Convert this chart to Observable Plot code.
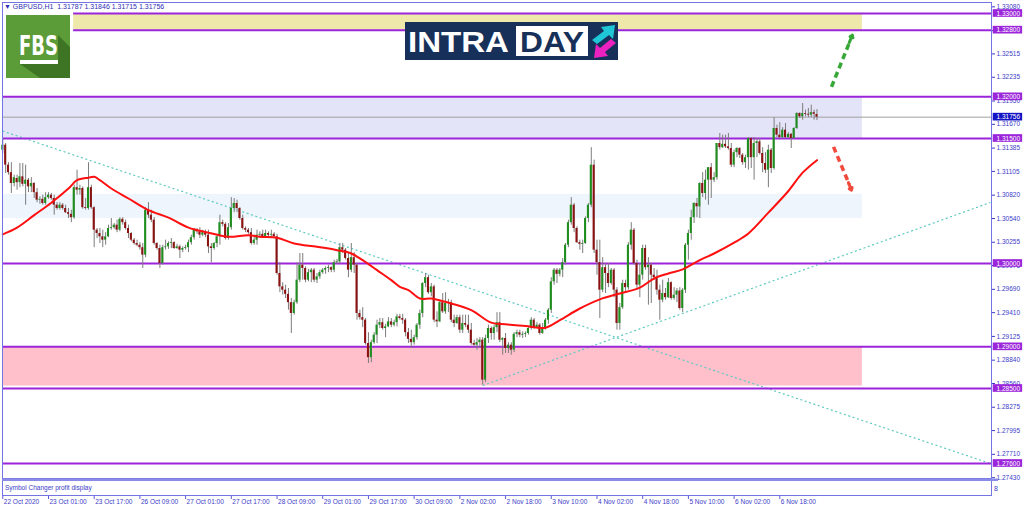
<!DOCTYPE html>
<html><head><meta charset="utf-8">
<script src="https://cdn.jsdelivr.net/npm/d3@7"></script>
<script src="https://cdn.jsdelivr.net/npm/@observablehq/plot@0.6"></script>
<style>
html,body{margin:0;padding:0;background:#fff;}
#wrap{position:relative;width:1024px;height:511px;overflow:hidden;font-family:"Liberation Sans",Arial,sans-serif;}
#chart{position:absolute;left:0;top:0;}
#hdr{position:absolute;left:4px;top:3px;font-size:7px;color:#2e2eb8;white-space:pre;line-height:8px;}
#fbs{position:absolute;left:6px;top:15px;width:64px;height:63px;}
#intra{position:absolute;left:405px;top:22px;width:213px;height:38px;}
</style></head><body>
<div id="wrap"><div id="chart"></div>
<div id="hdr">▼ GBPUSD,H1  1.31787 1.31846 1.31715 1.31756</div>
<div id="fbs"><svg width="64" height="63">
<rect width="64" height="63" fill="#5c9c38"/>
<polygon points="52,20 64,32 64,63 34,63 14,49 52,49" fill="#3e7524"/>
<text x="13" y="40" font-family="'DejaVu Sans Condensed','Liberation Sans Narrow','Liberation Sans',sans-serif" font-weight="bold" font-size="26" fill="#fff" textLength="39" lengthAdjust="spacingAndGlyphs">FBS</text>
<rect x="14" y="45" width="38" height="4" fill="#fff"/>
</svg></div>
<div id="intra"><svg width="213" height="38">
<rect width="213" height="38" fill="#17305a"/>
<text x="3" y="30" font-family="'Liberation Sans',Arial,sans-serif" font-weight="bold" font-size="29" fill="#fff" textLength="101" lengthAdjust="spacingAndGlyphs">INTRA</text>
<rect x="111" y="4" width="72" height="30" fill="#fff"/>
<text x="115" y="30" font-family="'Liberation Sans',Arial,sans-serif" font-weight="bold" font-size="29" fill="#17305a" textLength="64" lengthAdjust="spacingAndGlyphs">DAY</text>
<polygon points="187,18 199,9 196,5 210,3 208,17 204,13 192,22" fill="#1fc6d6"/>
<polygon points="211,21 200,30 203,34 189,36 191,22 195,26 206,17" fill="#ec22c0"/>
</svg></div>
</div>
<script>
// ---- data (GBPUSD H1) ----
const timeLabels = ["22 Oct 2020","23 Oct 01:00","23 Oct 17:00","26 Oct 09:00","27 Oct 01:00","27 Oct 17:00","28 Oct 09:00","29 Oct 01:00","29 Oct 17:00","30 Oct 09:00","2 Nov 02:00","2 Nov 18:00","3 Nov 10:00","4 Nov 02:00","4 Nov 18:00","5 Nov 10:00","6 Nov 02:00","6 Nov 18:00"];
const timeLabelIndex = [0,16,32,48,64,80,96,112,128,144,160,176,192,208,224,240,256,272];

const open = [1.3136,1.3142,1.3118,1.3109,1.3096,1.3102,1.3097,1.3104,1.3095,1.3100,1.3092,1.3096,1.3085,1.3076,1.3077,1.3072,1.3079,1.3082,1.3078,1.3070,1.3066,1.3070,1.3066,1.3061,1.3059,1.3055,1.3091,1.3088,1.3090,1.3067,1.3066,1.3091,1.3067,1.3040,1.3036,1.3032,1.3028,1.3032,1.3042,1.3043,1.3046,1.3040,1.3053,1.3049,1.3042,1.3036,1.3028,1.3024,1.3022,1.3019,1.3010,1.3064,1.3058,1.3052,1.3024,1.3018,1.3000,1.3019,1.3020,1.3024,1.3025,1.3018,1.3020,1.3016,1.3018,1.3019,1.3025,1.3031,1.3040,1.3038,1.3034,1.3037,1.3034,1.3020,1.3018,1.3024,1.3032,1.3049,1.3047,1.3030,1.3043,1.3066,1.3072,1.3066,1.3054,1.3042,1.3040,1.3037,1.3024,1.3028,1.3034,1.3035,1.3032,1.3036,1.3034,1.3035,1.3032,1.2988,1.2972,1.2968,1.2963,1.2953,1.2940,1.2953,1.2980,1.2998,1.2994,1.2980,1.2989,1.2992,1.2980,1.2984,1.2989,1.2992,1.2994,1.2995,1.2992,1.3001,1.3002,1.3019,1.3016,1.3006,1.2992,1.3007,1.2998,1.2940,1.2935,1.2932,1.2904,1.2887,1.2905,1.2914,1.2926,1.2929,1.2922,1.2924,1.2930,1.2926,1.2929,1.2936,1.2934,1.2932,1.2917,1.2909,1.2905,1.2911,1.2926,1.2940,1.2976,1.2983,1.2965,1.2972,1.2932,1.2930,1.2953,1.2942,1.2952,1.2953,1.2932,1.2928,1.2935,1.2920,1.2928,1.2926,1.2920,1.2904,1.2902,1.2905,1.2908,1.2860,1.2910,1.2922,1.2916,1.2923,1.2929,1.2908,1.2910,1.2898,1.2902,1.2896,1.2915,1.2917,1.2914,1.2915,1.2916,1.2922,1.2932,1.2923,1.2926,1.2916,1.2922,1.2932,1.2944,1.2978,1.2992,1.2987,1.2992,1.3001,1.3022,1.3049,1.3070,1.3042,1.3025,1.3023,1.3024,1.3054,1.3070,1.3118,1.3016,1.3001,1.2968,1.2995,1.2988,1.2976,1.2992,1.2968,1.2928,1.2947,1.2976,1.2971,1.3022,1.3040,1.3000,1.2974,1.2986,1.3018,1.2995,1.2998,1.2986,1.2983,1.2968,1.2956,1.2964,1.2959,1.2977,1.2958,1.2962,1.2967,1.2946,1.2968,1.3022,1.3036,1.3055,1.3072,1.3068,1.3096,1.3084,1.3100,1.3115,1.3100,1.3103,1.3144,1.3139,1.3143,1.3140,1.3138,1.3118,1.3133,1.3138,1.3130,1.3121,1.3127,1.3150,1.3127,1.3144,1.3146,1.3132,1.3120,1.3112,1.3136,1.3114,1.3162,1.3154,1.3151,1.3160,1.3151,1.3155,1.3150,1.3162,1.3180,1.3176,1.3180,1.3179,1.3178,1.3181,1.31787];
const high = [1.3150,1.3144,1.3121,1.3121,1.3106,1.3106,1.3120,1.3120,1.3118,1.3102,1.3103,1.3097,1.3090,1.3080,1.3082,1.3085,1.3085,1.3084,1.3082,1.3073,1.3073,1.3072,1.3070,1.3066,1.3064,1.3094,1.3112,1.3094,1.3092,1.3078,1.3121,1.3094,1.3068,1.3042,1.3042,1.3040,1.3037,1.3046,1.3054,1.3048,1.3052,1.3055,1.3055,1.3052,1.3046,1.3037,1.3030,1.3028,1.3025,1.3024,1.3067,1.3073,1.3064,1.3055,1.3025,1.3022,1.3022,1.3028,1.3026,1.3030,1.3026,1.3023,1.3022,1.3020,1.3022,1.3028,1.3034,1.3042,1.3042,1.3043,1.3040,1.3040,1.3040,1.3024,1.3025,1.3035,1.3058,1.3052,1.3049,1.3048,1.3079,1.3078,1.3076,1.3067,1.3058,1.3044,1.3042,1.3042,1.3034,1.3040,1.3038,1.3040,1.3040,1.3038,1.3040,1.3037,1.3035,1.3001,1.2977,1.2974,1.2970,1.2958,1.2956,1.3001,1.3012,1.3012,1.2996,1.2993,1.2994,1.2994,1.2988,1.2992,1.2994,1.2996,1.2998,1.2996,1.3004,1.3005,1.3024,1.3024,1.3018,1.3013,1.3024,1.3013,1.3000,1.2944,1.2947,1.2934,1.2917,1.2908,1.2917,1.2932,1.2934,1.2934,1.2927,1.2935,1.2934,1.2932,1.2939,1.2939,1.2939,1.2934,1.2922,1.2920,1.2914,1.2928,1.2944,1.2977,1.2988,1.2986,1.2976,1.2974,1.2942,1.2956,1.2964,1.2965,1.2957,1.2956,1.2938,1.2938,1.2938,1.2938,1.2938,1.2938,1.2928,1.2908,1.2910,1.2911,1.2911,1.2914,1.2926,1.2924,1.2926,1.2941,1.2941,1.2911,1.2916,1.2905,1.2905,1.2917,1.2920,1.2920,1.2918,1.2918,1.2924,1.2935,1.2934,1.2929,1.2928,1.2928,1.2934,1.2946,1.2983,1.2994,1.2994,1.2994,1.3006,1.3024,1.3052,1.3079,1.3072,1.3044,1.3028,1.3028,1.3056,1.3072,1.3139,1.3124,1.3028,1.3028,1.3007,1.3000,1.3000,1.2994,1.2994,1.2971,1.2952,1.2980,1.2980,1.3025,1.3049,1.3042,1.3004,1.3000,1.3022,1.3022,1.3007,1.3000,1.2994,1.2992,1.2974,1.2980,1.2970,1.2982,1.2978,1.2971,1.2970,1.2971,1.2970,1.3024,1.3040,1.3064,1.3073,1.3078,1.3097,1.3109,1.3112,1.3115,1.3120,1.3109,1.3144,1.3156,1.3154,1.3154,1.3156,1.3144,1.3136,1.3139,1.3139,1.3132,1.3130,1.3151,1.3151,1.3151,1.3150,1.3150,1.3139,1.3133,1.3142,1.3138,1.3175,1.3166,1.3169,1.3163,1.3168,1.3157,1.3156,1.3163,1.3181,1.3181,1.3192,1.3184,1.3186,1.3190,1.3184,1.31846];
const low = [1.3132,1.3108,1.3106,1.3084,1.3092,1.3088,1.3091,1.3092,1.3070,1.3085,1.3085,1.3078,1.3073,1.3071,1.3070,1.3070,1.3077,1.3076,1.3058,1.3064,1.3064,1.3064,1.3060,1.3054,1.3049,1.3053,1.3082,1.3082,1.3065,1.3064,1.3064,1.3065,1.3019,1.3030,1.3024,1.3019,1.3022,1.3031,1.3040,1.3041,1.3037,1.3038,1.3046,1.3040,1.3030,1.3026,1.3022,1.3020,1.3016,1.2994,1.3007,1.3054,1.3049,1.3022,1.3016,1.2994,1.2998,1.3016,1.3017,1.3018,1.3017,1.3017,1.3006,1.3013,1.3016,1.3013,1.3022,1.3028,1.3035,1.3030,1.3032,1.3031,1.3012,1.3001,1.3016,1.3019,1.3022,1.3044,1.3028,1.3028,1.3040,1.3061,1.3061,1.3052,1.3040,1.3037,1.3035,1.3022,1.3022,1.3022,1.3030,1.3030,1.3030,1.3031,1.3031,1.3030,1.2986,1.2965,1.2962,1.2958,1.2944,1.2916,1.2938,1.2951,1.2977,1.2980,1.2977,1.2978,1.2977,1.2977,1.2976,1.2981,1.2987,1.2987,1.2989,1.2989,1.2989,1.2999,1.2999,1.3012,1.3004,1.2983,1.2989,1.2988,1.2932,1.2932,1.2923,1.2902,1.2880,1.2881,1.2903,1.2904,1.2922,1.2920,1.2911,1.2923,1.2923,1.2924,1.2924,1.2932,1.2927,1.2912,1.2904,1.2898,1.2902,1.2908,1.2921,1.2935,1.2971,1.2963,1.2960,1.2929,1.2923,1.2929,1.2940,1.2939,1.2941,1.2929,1.2923,1.2927,1.2916,1.2916,1.2923,1.2916,1.2902,1.2899,1.2896,1.2898,1.2854,1.2857,1.2904,1.2908,1.2908,1.2917,1.2905,1.2890,1.2892,1.2892,1.2890,1.2893,1.2911,1.2911,1.2910,1.2911,1.2914,1.2920,1.2921,1.2922,1.2914,1.2915,1.2920,1.2927,1.2940,1.2974,1.2976,1.2984,1.2983,1.2998,1.3019,1.3046,1.3037,1.3024,1.3016,1.3012,1.3023,1.3049,1.3067,1.3012,1.2986,1.2934,1.2965,1.2964,1.2971,1.2974,1.2959,1.2920,1.2920,1.2945,1.2965,1.2968,1.3016,1.2998,1.2968,1.2959,1.2980,1.2992,1.2950,1.2952,1.2980,1.2962,1.2932,1.2953,1.2956,1.2958,1.2956,1.2956,1.2953,1.2944,1.2941,1.2964,1.3004,1.3028,1.3048,1.3055,1.3054,1.3079,1.3076,1.3070,1.3078,1.3097,1.3100,1.3136,1.3138,1.3138,1.3136,1.3115,1.3115,1.3127,1.3126,1.3118,1.3114,1.3112,1.3114,1.3100,1.3127,1.3130,1.3109,1.3108,1.3091,1.3108,1.3112,1.3151,1.3150,1.3150,1.3150,1.3150,1.3138,1.3149,1.3161,1.3174,1.3172,1.3176,1.3175,1.3175,1.3172,1.31715];
const close = [1.3142,1.3118,1.3109,1.3096,1.3103,1.3097,1.3104,1.3095,1.3100,1.3092,1.3096,1.3085,1.3076,1.3077,1.3072,1.3079,1.3082,1.3078,1.3070,1.3066,1.3070,1.3066,1.3061,1.3059,1.3055,1.3091,1.3088,1.3090,1.3067,1.3066,1.3091,1.3067,1.3040,1.3036,1.3032,1.3028,1.3032,1.3042,1.3043,1.3046,1.3040,1.3053,1.3049,1.3042,1.3036,1.3028,1.3024,1.3022,1.3019,1.3010,1.3064,1.3058,1.3052,1.3024,1.3018,1.3000,1.3019,1.3020,1.3024,1.3025,1.3018,1.3020,1.3016,1.3018,1.3019,1.3025,1.3031,1.3040,1.3038,1.3034,1.3037,1.3034,1.3020,1.3018,1.3024,1.3032,1.3049,1.3047,1.3030,1.3043,1.3066,1.3072,1.3066,1.3054,1.3042,1.3040,1.3037,1.3024,1.3028,1.3034,1.3035,1.3032,1.3036,1.3034,1.3035,1.3032,1.2988,1.2972,1.2968,1.2963,1.2953,1.2940,1.2953,1.2980,1.2998,1.2994,1.2980,1.2989,1.2992,1.2980,1.2984,1.2989,1.2992,1.2994,1.2995,1.2992,1.3001,1.3002,1.3019,1.3016,1.3006,1.2992,1.3007,1.2998,1.2940,1.2935,1.2932,1.2904,1.2887,1.2905,1.2914,1.2926,1.2929,1.2922,1.2924,1.2930,1.2926,1.2929,1.2936,1.2934,1.2932,1.2917,1.2909,1.2905,1.2911,1.2926,1.2940,1.2976,1.2983,1.2965,1.2972,1.2932,1.2930,1.2953,1.2942,1.2952,1.2953,1.2932,1.2928,1.2935,1.2920,1.2928,1.2926,1.2920,1.2904,1.2902,1.2905,1.2908,1.2860,1.2910,1.2922,1.2916,1.2923,1.2929,1.2908,1.2910,1.2898,1.2902,1.2896,1.2915,1.2917,1.2914,1.2915,1.2916,1.2922,1.2932,1.2923,1.2926,1.2916,1.2922,1.2932,1.2944,1.2978,1.2992,1.2987,1.2992,1.3001,1.3022,1.3049,1.3070,1.3042,1.3025,1.3023,1.3024,1.3054,1.3070,1.3118,1.3016,1.3001,1.2968,1.2995,1.2988,1.2976,1.2992,1.2968,1.2928,1.2947,1.2976,1.2971,1.3022,1.3040,1.3000,1.2974,1.2986,1.3018,1.2995,1.2998,1.2986,1.2983,1.2968,1.2956,1.2964,1.2959,1.2977,1.2958,1.2962,1.2967,1.2946,1.2968,1.3022,1.3036,1.3055,1.3072,1.3068,1.3096,1.3084,1.3100,1.3115,1.3100,1.3103,1.3144,1.3139,1.3143,1.3140,1.3138,1.3118,1.3133,1.3138,1.3130,1.3121,1.3127,1.3150,1.3127,1.3144,1.3146,1.3132,1.3120,1.3112,1.3136,1.3114,1.3162,1.3154,1.3151,1.3160,1.3151,1.3155,1.3150,1.3162,1.3180,1.3176,1.3180,1.3179,1.3178,1.3181,1.3179,1.31756];

// moving average (bar index, value)
const maIndex = [0,5,11,17,23,26,30,32,34,38,44,51,58,65,72,79,86,90,96,102,110,117,122,126,131,136,139,142,146,150,157,164,171,176,183,190,195,202,209,216,223,228,233,238,244,249,256,261,268,275,280,285];
const maValue = [1.3035,1.3043,1.3058,1.3073,1.3090,1.3100,1.3103,1.3104,1.3100,1.3090,1.3078,1.3064,1.3055,1.3043,1.3037,1.3032,1.3034,1.3032,1.3031,1.3024,1.3020,1.3016,1.3012,1.3004,1.2992,1.2980,1.2972,1.2968,1.2958,1.2958,1.2952,1.2944,1.2929,1.2927,1.2925,1.2923,1.2932,1.2946,1.2957,1.2964,1.2971,1.2982,1.2988,1.2993,1.3004,1.3012,1.3025,1.3036,1.3061,1.3087,1.3109,1.3124];

const levels = [1.33, 1.328, 1.32, 1.315, 1.30, 1.29, 1.285, 1.276];
const currentPrice = 1.31756;
const yTickValues = [1.33080,1.32795,1.32515,1.32235,1.31950,1.31670,1.31385,1.31105,1.30820,1.30540,1.30255,1.29975,1.29690,1.29410,1.29125,1.28840,1.28560,1.28275,1.27995,1.27710,1.27430];

const zoneLow  = [1.328, 1.315, 1.3054, 1.2853];
const zoneHigh = [1.330, 1.320, 1.3083, 1.2900];
const zoneFill = ["#eee8aa", "#e4e4f8", "#eef5fd", "#ffc0cb"];

const trendStartX = [-0.1, 168];
const trendStartY = [1.3159, 1.28536];
const trendEndX   = [345.7, 345.7];
const trendEndY   = [1.2760, 1.30732];

// ---- build ----
const XMIN = -0.1, XMAX = 346.1;
const YMIN = 1.27420, YMAX = 1.33132;
const fmt = d3.format(".5f");
const candles = open.map((o, i) => ({i, o, h: high[i], l: low[i], c: close[i]}));
const ma = maIndex.map((x, k) => ({x, y: maValue[k]}));
const zones = zoneLow.map((lo, k) => ({lo, hi: zoneHigh[k], fill: zoneFill[k], x1: k === 0 ? 24.8 : XMIN, x2: 300.9}));
const trends = trendStartX.map((x1, k) => ({x1, y1: trendStartY[k], x2: trendEndX[k], y2: trendEndY[k]}));
const times = timeLabelIndex.map((x, k) => ({x, label: timeLabels[k]}));
const BOX1 = 346.7, BOX2 = 357.0, BH = 0.00046;
const PURPLE = "#9b25da", AXC = "#3c3cc8";

const plot = Plot.plot({
  width: 1024, height: 511,
  marginLeft: 2, marginRight: 33, marginTop: 2, marginBottom: 33,
  x: {domain: [XMIN, XMAX], axis: null},
  y: {domain: [YMIN, YMAX]},
  style: {fontFamily: "'Liberation Sans', Arial, sans-serif", fontSize: "6.5px", background: "transparent", overflow: "visible"},
  marks: [
    Plot.rect(zones, {x1: "x1", x2: "x2", y1: "lo", y2: "hi", fill: "fill"}),
    Plot.ruleY([currentPrice], {stroke: "#a0a0a0", strokeWidth: 1}),
    Plot.link(trends, {x1: "x1", y1: "y1", x2: "x2", y2: "y2", stroke: "#5ccac2", strokeWidth: 1.2, strokeDasharray: "2,2.6"}),
    Plot.ruleY(levels, {y: d => d, x1: d => d >= 1.328 ? 24.8 : XMIN, x2: XMAX, stroke: PURPLE, strokeWidth: 2}),
    Plot.ruleX(candles, {x: "i", y1: "l", y2: "h", stroke: "#7c7c7c", strokeWidth: 1}),
    Plot.rect(candles, {x1: d => d.i - 0.36, x2: d => d.i + 0.36, y1: "o", y2: d => d.c === d.o ? d.c + 0.00007 : d.c,
      fill: d => d.c >= d.o ? "#1e8e1e" : "#8b1212"}),
    Plot.line(ma, {x: "x", y: "y", stroke: "#ff1010", strokeWidth: 2, curve: "catmull-rom"}),
    // dashed forecast arrows
    Plot.link([{x1: 290.1, y1: 1.3212, x2: 296.6, y2: 1.3267}], {x1: "x1", y1: "y1", x2: "x2", y2: "y2", stroke: "#37a837", strokeWidth: 3.5, strokeDasharray: "6,4"}),
    Plot.arrow([{x1: 296.3, y1: 1.3265, x2: 297.4, y2: 1.3274}], {x1: "x1", y1: "y1", x2: "x2", y2: "y2", stroke: "#37a837", strokeWidth: 3, headLength: 9, headAngle: 70}),
    Plot.link([{x1: 290.8, y1: 1.3140, x2: 296.3, y2: 1.3095}], {x1: "x1", y1: "y1", x2: "x2", y2: "y2", stroke: "#f24a3c", strokeWidth: 3.5, strokeDasharray: "6,4"}),
    Plot.arrow([{x1: 296.0, y1: 1.3097, x2: 297.1, y2: 1.3088}], {x1: "x1", y1: "y1", x2: "x2", y2: "y2", stroke: "#f24a3c", strokeWidth: 3, headLength: 9, headAngle: 70}),
    Plot.frame({stroke: "#7474e4"}),
    // right price axis
    Plot.axisY({anchor: "right", ticks: yTickValues, tickFormat: fmt, tickSize: 3, tickPadding: 2, color: AXC, fontSize: 6.5, label: null}),
    Plot.rect(levels, {x1: BOX1, x2: BOX2, y1: d => d - BH, y2: d => d + BH, fill: PURPLE}),
    Plot.text(levels, {y: d => d, text: d => fmt(d), frameAnchor: "right", dx: 5, textAnchor: "start", fill: "white", fontSize: 6.5}),
    Plot.rect([currentPrice], {x1: BOX1, x2: BOX2, y1: d => d - BH, y2: d => d + BH, fill: "#1414c4"}),
    Plot.text([currentPrice], {y: d => d, text: d => fmt(d), frameAnchor: "right", dx: 5, textAnchor: "start", fill: "white", fontSize: 6.5}),
    // time axis (below the indicator sub-window)
    Plot.ruleX(times, {x: "x", y1: 1.27204, y2: 1.27168, stroke: "#5a5ad8"}),
    Plot.text(times, {x: "x", text: "label", frameAnchor: "bottom", dy: 25, dx: 1, textAnchor: "start", fill: AXC, fontSize: 6.5})
  ]
});

// sub-window decoration
const svg = d3.select(plot);
svg.append("rect").attr("x", 2).attr("y", 478.5).attr("width", 996).attr("height", 2.5).attr("fill", "#8a8ae8");
svg.append("line").attr("x1", 2.5).attr("x2", 2.5).attr("y1", 481).attr("y2", 496).attr("stroke", "#7474e4");
svg.append("line").attr("x1", 991.5).attr("x2", 991.5).attr("y1", 481).attr("y2", 496).attr("stroke", "#7474e4");
svg.append("line").attr("x1", 2).attr("x2", 991.5).attr("y1", 495.5).attr("y2", 495.5).attr("stroke", "#7474e4");
svg.append("text").attr("x", 5).attr("y", 490).attr("text-anchor", "start").attr("fill", AXC).attr("font-size", 6.5).text("Symbol Changer profit display");
svg.append("text").attr("x", 994).attr("y", 491).attr("text-anchor", "start").attr("fill", AXC).attr("font-size", 7).text("8");
document.getElementById("chart").appendChild(plot);
</script>
</body></html>
